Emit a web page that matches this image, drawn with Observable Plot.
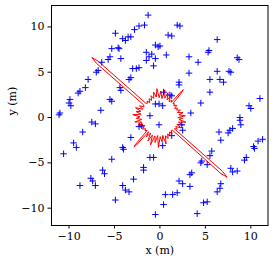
<!DOCTYPE html>
<html>
<head>
<meta charset="utf-8">
<script src="https://cdn.jsdelivr.net/npm/d3@7"></script>
<script src="https://cdn.jsdelivr.net/npm/@observablehq/plot@0.6"></script>
<style>
  html, body { margin: 0; padding: 0; background: white; }
</style>
</head>
<body>
<div id="chart"></div>
<script>
// Tick values
const xTicks = [-10, -5, 0, 5, 10];
const yTicks = [-10, -5, 0, 5, 10];

// Blue "+" markers (metres)
const pointsX = [
  -1.3, -2.3, -1.7, -2.8, -4.9, -3.5, -3.2, -4.1, -3.8, -0.5, -0.2, -5.3, -4.6, -4.5,
  -1.5, -0.9, -1.2, -0.5, -1.5, -5.5, -5.7, -4.3, -6.4, -0.7, -3.0, -2.6, -2.3, -6.8,
  -7.0, -3.2, -3.4, -7.9,
  1.9, 2.2, 0.9, 1.3, 6.3, 0.0, 5.4, 5.3, 0.7, 3.2, 4.2, 8.5, 8.7, 3.2, 6.3, 7.6, 7.8,
  5.5, 6.6, 7.0, 2.1, 2.1,
  0.4, 1.1, 1.3, 5.5, 4.5, -0.5, -0.1, 0.3, 11.0, 9.8, 10.0, 3.4, 8.8, 8.8, 8.9, 2.4,
  2.5, 6.5, 8.0, 7.7, 7.5, 6.7, 1.3, 0.3, 10.8, 11.3, 10.3, 10.4, 5.7,
  -8.2, -8.8, -9.0, -9.9, -10.0, -9.8, -5.5, -5.3, -4.4, -4.3, -11.0, -11.1, -6.5,
  -7.5, -7.1, -8.5, -9.5, -9.2, -10.6, -4.1, -4.0, -3.2, -1.1, -2.3, -2.0, -0.1,
  -5.3, -1.1, -0.7, -6.3, -6.1, -1.8, -1.8, -7.6, -7.4, -8.8, -7.1, -2.9, -4.1, -3.8,
  -3.4, -4.9, -0.5,
  5.5, 4.6, 5.2, 4.5, 9.3, 9.5, 7.8, 8.0, 8.5, 3.5, 3.3, 2.1, 2.5, 3.3, 6.7, 6.6, 6.3,
  0.6, 1.4, 1.9, 0.4, 4.8, 5.2, 4.1
];
const pointsY = [
  11.3, 10.1, 10.2, 9.7, 9.3, 8.9, 8.9, 8.7, 8.5, 8.0, 7.8, 7.6, 7.7, 7.6,
  7.2, 7.0, 6.7, 6.5, 6.3, 6.7, 6.4, 6.5, 6.1, 5.7, 5.4, 5.4, 5.5, 5.2,
  5.0, 4.4, 4.2, 4.2,
  10.2, 10.1, 9.1, 9.0, 8.6, 7.9, 7.4, 7.2, 6.9, 6.7, 6.1, 6.6, 6.4, 4.9, 5.1, 5.1, 5.0,
  4.2, 4.2, 3.9, 3.9, 3.6,
  2.8, 2.5, 2.4, 2.8, 1.6, 1.5, 1.5, 1.3, 2.1, 1.3, 1.0, 0.5, 0.0, -0.3, -0.8, -0.8,
  -1.4, -1.6, -1.2, -1.4, -1.7, -2.5, -2.0, -3.1, -2.6, -2.4, -3.2, -3.4, -3.7,
  3.3, 2.9, 2.7, 2.0, 1.6, 1.3, 2.0, 1.8, 3.3, 3.0, 0.5, 0.3, 0.8,
  -0.5, -0.7, -1.6, -2.8, -3.3, -4.0, -3.3, -3.5, -2.2, 0.2, -1.0, -0.9, -0.8,
  -4.6, -4.4, -4.4, -5.8, -6.2, -5.5, -5.8, -6.7, -7.0, -7.5, -7.5, -6.8, -7.5, -8.0,
  -8.2, -9.1, -10.7,
  -4.2, -4.8, -5.2, -5.0, -4.7, -4.4, -5.6, -6.0, -5.9, -6.1, -6.3, -7.0, -7.3, -7.6, -7.3, -7.8, -8.2,
  -8.5, -8.5, -8.3, -9.6, -9.4, -9.3, -10.6
];

// Red polar outline: angle (degrees) and radius (metres)
const ringAngles = [
  0, 4, 8, 12, 16, 20, 24, 28, 32, 36, 40, 44, 47, 49.2, 50, 50.8, 53, 56, 60, 64, 68,
  72, 76, 80, 84, 88, 92, 96, 100, 104, 108, 112, 116, 120, 124, 128, 131, 134.5,
  137.55, 138.5, 139.45, 142, 146, 150, 154, 158, 162, 166, 170, 174, 178, 182, 186,
  190, 194, 198, 202, 206, 210, 214, 218, 222, 225.5, 227.8, 228.6, 229.4, 231.5, 235,
  239, 243, 247, 251, 255, 259, 263, 267, 271, 275, 279, 283, 287, 291, 295, 299, 303,
  307, 311, 314.5, 317.35, 318.3, 319.25, 322, 326, 330, 334, 338, 342, 346, 350, 354,
  358, 360
];
const ringRadii = [
  2.0, 2.8, 2.1, 2.6, 2.0, 2.4, 2.0, 2.2, 1.9, 2.3, 2.0, 2.2, 2.1, 3.8, 4.0, 3.8, 2.1, 2.3, 2.0, 2.6, 2.1,
  2.9, 2.2, 3.1, 2.1, 2.9, 2.2, 3.2, 2.3, 2.9, 2.2, 2.6, 2.1, 2.4, 2.0, 2.3, 2.1, 2.2,
  9.2, 10.0, 9.2, 2.3, 2.1, 2.6, 2.1, 2.9, 2.2, 2.7, 2.1, 3.0, 2.2, 2.6, 2.0,
  2.8, 2.1, 2.5, 2.0, 2.4, 2.0, 2.3, 2.0, 2.2, 2.0, 4.1, 4.3, 4.1, 2.0, 2.6,
  2.0, 2.9, 2.1, 3.2, 2.1, 2.8, 2.0, 3.3, 2.1, 2.7, 2.0, 3.0, 2.1, 2.5, 2.0, 2.3, 1.9,
  2.2, 1.9, 1.9, 9.1, 9.9, 9.1, 2.0, 2.3, 2.0, 2.6, 2.0, 2.7, 2.1, 2.9, 2.1,
  2.5, 2.0
];

const ring = ringAngles.map((a, i) => ({
  x: ringRadii[i] * Math.cos(a * Math.PI / 180),
  y: ringRadii[i] * Math.sin(a * Math.PI / 180)
}));

const chart = Plot.plot({
  width: 277,
  height: 265,
  marginLeft: 51,
  marginRight: 9.5,
  marginTop: 5,
  marginBottom: 40,
  style: {fontFamily: "'DejaVu Serif', serif", fontSize: "11px", background: "white", color: "black"},
  x: {domain: [-11.93, 11.89], ticks: xTicks, tickSize: 3.5, tickPadding: 3, label: null},
  y: {domain: [-11.91, 12.36], ticks: yTicks, tickSize: 3.5, tickPadding: 3.5, label: null},
  marks: [
    Plot.line(ring, {x: "x", y: "y", stroke: "#ff0000", strokeWidth: 1, curve: "linear"}),
    Plot.dot(pointsX, {x: pointsX, y: pointsY, symbol: "plus", r: 2.25, stroke: "#0000ff", strokeWidth: 1}),
    Plot.frame({stroke: "black", strokeWidth: 1}),
    Plot.text(["x (m)"], {frameAnchor: "bottom", dy: 28, fontSize: 11}),
    Plot.text(["y (m)"], {frameAnchor: "left", dx: -39, rotate: -90, fontSize: 11})
  ]
});
document.getElementById("chart").appendChild(chart);
</script>
</body>
</html>
